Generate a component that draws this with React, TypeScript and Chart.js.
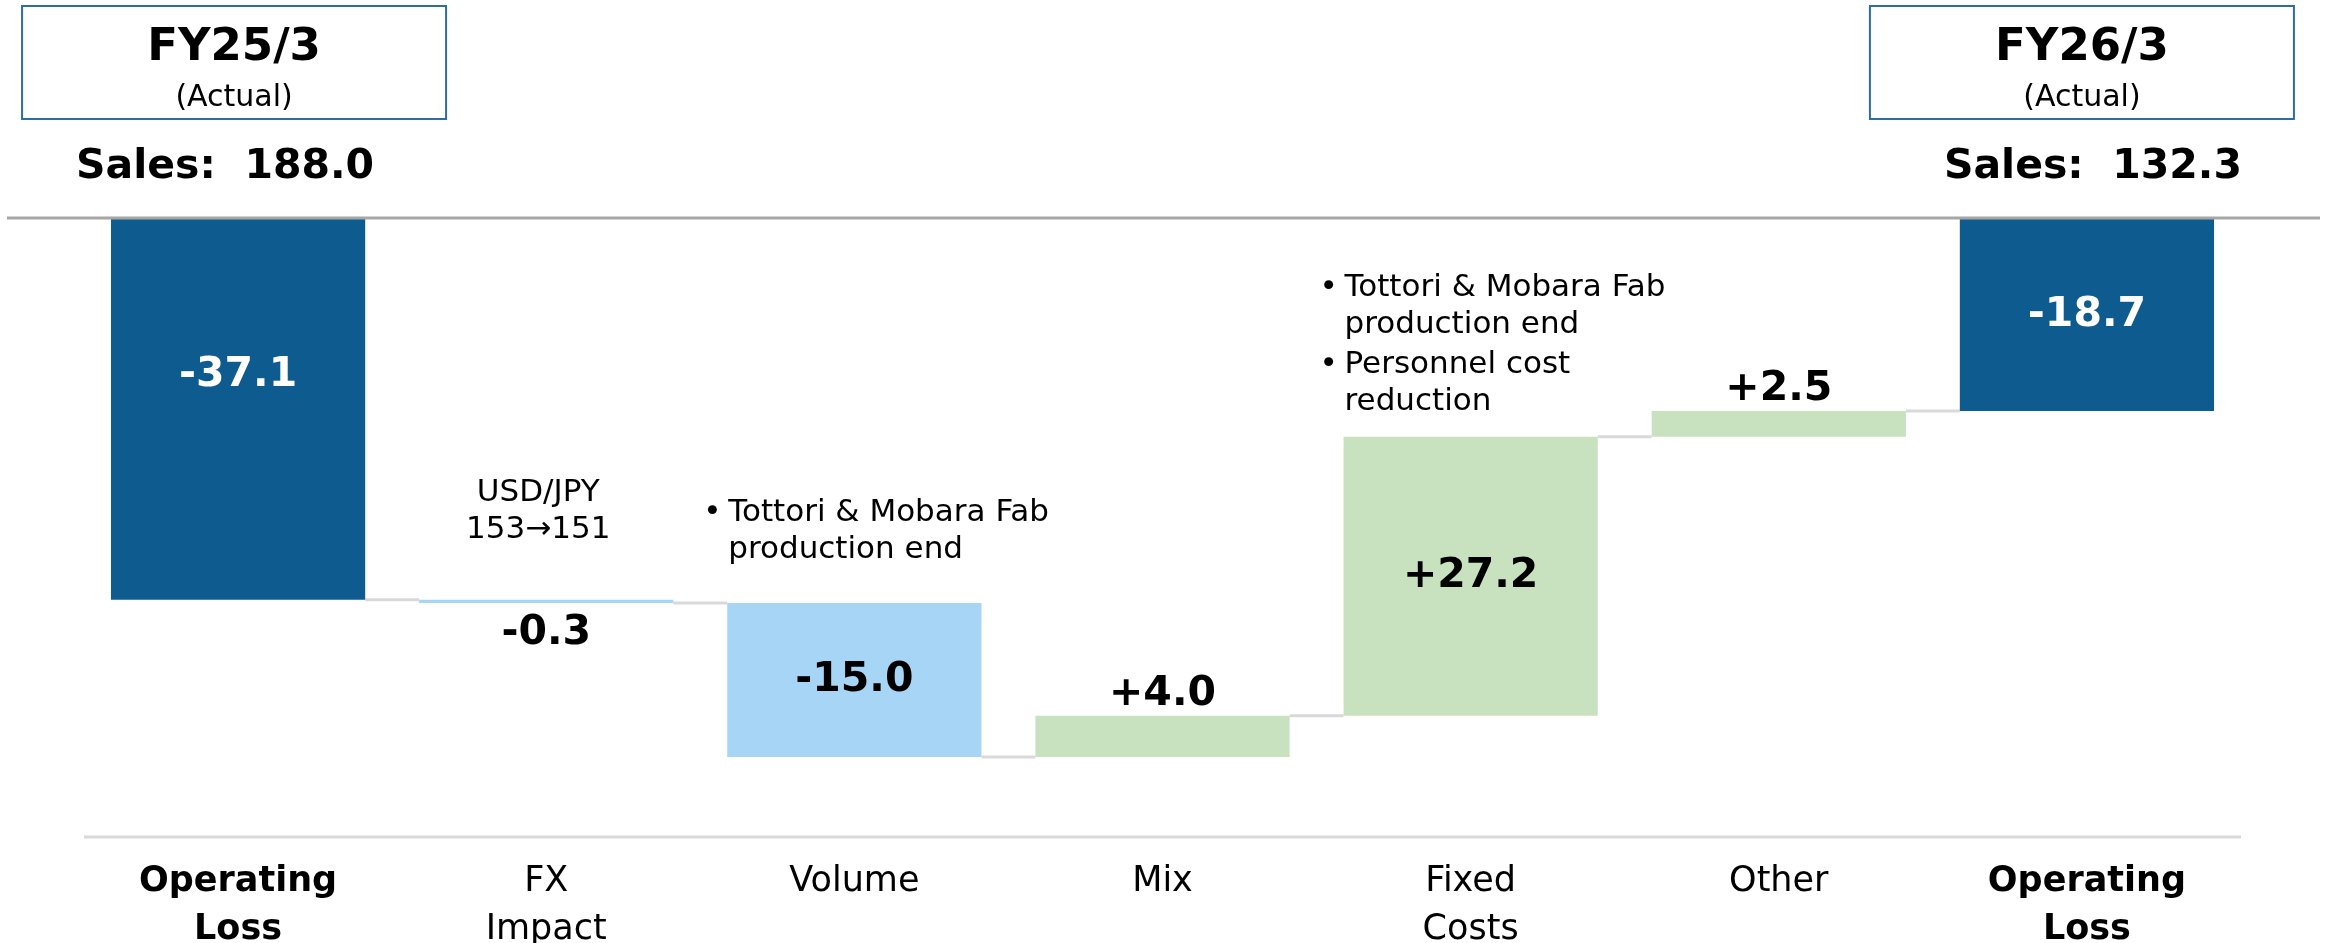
import React, { useEffect, useRef } from "react";
import { Chart, registerables } from "chart.js";

Chart.register(...registerables);

const categories: string[][] = [
  ["Operating", "Loss"],
  ["FX", "Impact"],
  ["Volume"],
  ["Mix"],
  ["Fixed", "Costs"],
  ["Other"],
  ["Operating", "Loss"],
];
const boldCategory = [true, false, false, false, false, false, true];
// deltas; first and last are totals
const values = [-37.1, -0.3, -15.0, 4.0, 27.2, 2.5, -18.7];
const isTotal = [true, false, false, false, false, false, true];
const valueLabels = ["-37.1", "-0.3", "-15.0", "+4.0", "+27.2", "+2.5", "-18.7"];
const labelPlace = ["inner", "below", "center", "above", "center", "above", "center"];
const headerTitles = ["FY25/3", "FY26/3"];
const headerSubs = ["(Actual)", "(Actual)"];
const salesLabels = ["Sales:  188.0", "Sales:  132.3"];
const annotations: { idx: number; bullet: boolean; rise: number; lines: string[][] }[] = [
  { idx: 1, bullet: false, rise: 107, lines: [["USD/JPY", "153→151"]] },
  { idx: 2, bullet: true, rise: 90, lines: [["Tottori & Mobara Fab", "production end"]] },
  {
    idx: 4,
    bullet: true,
    rise: 149,
    lines: [
      ["Tottori & Mobara Fab", "production end"],
      ["Personnel cost", "reduction"],
    ],
  },
];

const DARK = "#0E5B8F";
const LIGHT_BLUE = "#A6D5F5";
const LIGHT_GREEN = "#C8E2C0";
const FONT = "'DejaVu Sans', Verdana, sans-serif";

function buildRanges() {
  const ranges: [number, number][] = [];
  let run = 0;
  values.forEach((v, i) => {
    if (isTotal[i]) {
      ranges.push([0, v]);
      run = v;
    } else {
      ranges.push([run, run + v]);
      run = run + v;
    }
  });
  return ranges;
}

export default function App() {
  const ref = useRef<HTMLCanvasElement>(null);
  useEffect(() => {
    const ranges = buildRanges();
    const colors = values.map((v, i) =>
      isTotal[i] ? DARK : v < 0 ? LIGHT_BLUE : LIGHT_GREEN
    );
    const overlay = {
      id: "overlay",
      beforeDatasetsDraw(chart: any) {
        const ctx = chart.ctx;
        const meta = chart.getDatasetMeta(0);
        const y = chart.scales.y;
        ctx.save();
        ctx.strokeStyle = "#D9D9D9";
        ctx.lineWidth = 3;
        for (let i = 0; i < ranges.length - 1; i++) {
          const a = meta.data[i];
          const b = meta.data[i + 1];
          const yy = y.getPixelForValue(ranges[i][1]);
          ctx.beginPath();
          ctx.moveTo(a.x + a.width / 2, yy);
          ctx.lineTo(b.x - b.width / 2, yy);
          ctx.stroke();
        }
        const area = chart.chartArea;
        ctx.beginPath();
        ctx.moveTo(area.left, area.bottom);
        ctx.lineTo(area.right, area.bottom);
        ctx.stroke();
        ctx.restore();
      },
      afterDatasetsDraw(chart: any) {
        const ctx = chart.ctx;
        const meta = chart.getDatasetMeta(0);
        const x = chart.scales.x;
        const y = chart.scales.y;
        const area = chart.chartArea;
        ctx.save();
        ctx.strokeStyle = "#A6A6A6";
        ctx.lineWidth = 3;
        ctx.beginPath();
        ctx.moveTo(7, y.getPixelForValue(0) - 1);
        ctx.lineTo(2320, y.getPixelForValue(0) - 1);
        ctx.stroke();

        ctx.textAlign = "center";
        ctx.textBaseline = "middle";
        ctx.font = `bold 41px ${FONT}`;
        meta.data.forEach((bar: any, i: number) => {
          const top = Math.min(bar.y, bar.base);
          const bottom = Math.max(bar.y, bar.base);
          let ly = (top + bottom) / 2;
          if (labelPlace[i] === "above") ly = top - 22;
          if (labelPlace[i] === "below") ly = bottom + 30;
          if (labelPlace[i] === "inner") ly = top + 156;
          ctx.fillStyle = isTotal[i] ? "#FFFFFF" : "#000000";
          ctx.fillText(valueLabels[i], bar.x, ly);
        });

        ctx.fillStyle = "#000";
        ctx.font = `31px ${FONT}`;
        annotations.forEach((a) => {
          const bar = meta.data[a.idx];
          const lh = 37;
          const topBar = Math.min(bar.y, bar.base);
          let yy = topBar - a.rise;
          a.lines.forEach((g, gi) => {
            if (gi > 0) yy += 3;
            g.forEach((line, li) => {
              if (a.bullet) {
                ctx.textAlign = "left";
                const lx = bar.x - bar.width / 2;
                if (li === 0) ctx.fillText("•", lx - 24, yy);
                ctx.fillText(line, lx + 1, yy);
              } else {
                ctx.textAlign = "center";
                ctx.fillText(line, bar.x - 8, yy);
              }
              yy += lh;
            });
          });
        });

        ctx.textAlign = "center";
        categories.forEach((lines, i) => {
          const cx = x.getPixelForValue(i);
          ctx.font = `${boldCategory[i] ? "bold " : ""}35px ${FONT}`;
          lines.forEach((l, li) => {
            ctx.fillText(l, cx, area.bottom + 45 + li * 48);
          });
        });

        const firstBar = meta.data[0];
        const lastBar = meta.data[meta.data.length - 1];
        [firstBar, lastBar].forEach((bar: any, k: number) => {
          const cx = bar.x - 4 + (k === 1 ? -1 : 0);
          const bw = 424;
          ctx.strokeStyle = "#2E6DA4";
          ctx.lineWidth = 2;
          ctx.strokeRect(cx - bw / 2, 6, bw, 113);
          ctx.fillStyle = "#000";
          ctx.textAlign = "center";
          ctx.font = `bold 45px ${FONT}`;
          ctx.fillText(headerTitles[k], cx, 48);
          ctx.font = `30px ${FONT}`;
          ctx.fillText(headerSubs[k], cx, 98);
          ctx.font = `bold 41px ${FONT}`;
          ctx.fillText(salesLabels[k], bar.x - 13 + (k === 1 ? 19 : 0), 167);
        });
        ctx.restore();
      },
    };

    const chart = new Chart(ref.current!, {
      type: "bar",
      data: {
        labels: categories.map((c) => c.join(" ")),
        datasets: [
          {
            data: ranges as any,
            backgroundColor: colors,
            borderWidth: 0,
            barPercentage: 0.825,
            categoryPercentage: 1,
          },
        ],
      },
      options: {
        responsive: false,
        animation: false,
        layout: { padding: { left: 84, right: 95, top: 219, bottom: 106 } },
        plugins: { legend: { display: false }, tooltip: { enabled: false } },
        scales: {
          x: { display: false },
          y: { display: false, min: -60.2, max: 0 },
        },
      },
      plugins: [overlay],
    });
    return () => chart.destroy();
  }, []);
  return (
    <div style={{ position: "fixed", left: 0, top: 0, width: 2336, height: 943, background: "#fff" }}>
      <canvas ref={ref} width={2336} height={943} style={{ width: 2336, height: 943 }} />
    </div>
  );
}
